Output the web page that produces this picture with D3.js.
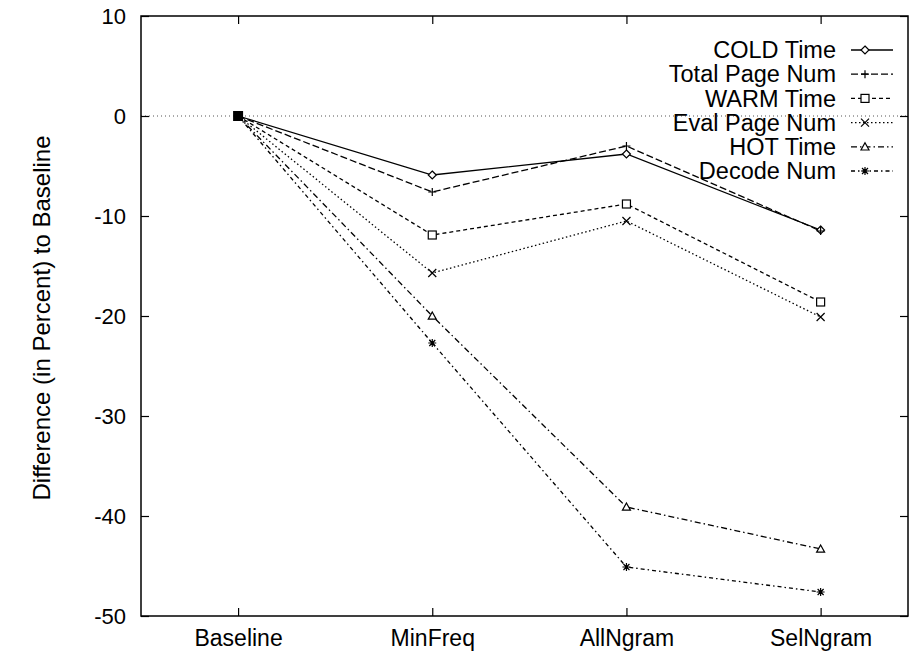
<!DOCTYPE html>
<html>
<head>
<meta charset="utf-8">
<script src="https://cdn.jsdelivr.net/npm/d3@7"></script>
<style>
  body { margin: 0; background: #fff; }
  svg { display: block; font-family: "Liberation Sans", Arial, sans-serif; }
</style>
</head>
<body>
<script>
// data
const categories = ['Baseline', 'MinFreq', 'AllNgram', 'SelNgram'];
const seriesNames = ['COLD Time', 'Total Page Num', 'WARM Time', 'Eval Page Num', 'HOT Time', 'Decode Num'];
const coldTime = [0, -5.9, -3.8, -11.4];
const totalPageNum = [0, -7.6, -3.0, -11.5];
const warmTime = [0, -11.9, -8.8, -18.6];
const evalPageNum = [0, -15.7, -10.5, -20.1];
const hotTime = [0, -20.0, -39.1, -43.3];
const decodeNum = [0, -22.7, -45.1, -47.6];
const yTicks = [10, 0, -10, -20, -30, -40, -50];

const seriesValues = [coldTime, totalPageNum, warmTime, evalPageNum, hotTime, decodeNum];
const dashes = [null, '7,3', '4,3', '1.5,2.5', '6,3,1.5,3', '4,3,1.5,3'];
const markers = ['diamond', 'plus', 'square', 'cross', 'triangle', 'star'];

const width = 909, height = 657;
const mLeft = 141, mRight = 908, mTop = 16, mBottom = 616;

const svg = d3.select('body').append('svg')
  .attr('width', width)
  .attr('height', height);

const x = d3.scaleLinear().domain([-0.5, 3.45]).range([mLeft, mRight]);
const y = d3.scaleLinear().domain([-50, 10]).range([mBottom, mTop]);

// zero line
svg.append('line')
  .attr('x1', mLeft).attr('x2', mRight)
  .attr('y1', y(0)).attr('y2', y(0))
  .attr('stroke', '#555').attr('stroke-width', 1)
  .attr('stroke-dasharray', '1,3');

// frame
svg.append('rect')
  .attr('x', mLeft).attr('y', mTop)
  .attr('width', mRight - mLeft).attr('height', mBottom - mTop)
  .attr('fill', 'none').attr('stroke', '#000').attr('stroke-width', 1.5);

// axes, ticks inward, mirrored like gnuplot
svg.append('g').attr('transform', `translate(${mLeft},0)`)
  .call(d3.axisLeft(y).tickValues(yTicks).tickFormat(d => String(d))
    .tickSizeInner(-8).tickSizeOuter(0).tickPadding(15))
  .call(g => g.select('.domain').remove())
  .call(g => g.selectAll('text').attr('font-size', 22).attr('fill', '#000').attr('font-family', null));
svg.append('g').attr('transform', `translate(${mRight},0)`)
  .call(d3.axisRight(y).tickValues(yTicks).tickSizeInner(-8).tickSizeOuter(0).tickFormat(''))
  .call(g => g.select('.domain').remove());
svg.append('g').attr('transform', `translate(0,${mBottom})`)
  .call(d3.axisBottom(x).tickValues(d3.range(categories.length)).tickFormat(i => categories[i])
    .tickSizeInner(-8).tickSizeOuter(0).tickPadding(14))
  .call(g => g.select('.domain').remove())
  .call(g => g.selectAll('text').attr('font-size', 23).attr('fill', '#000').attr('font-family', null));
svg.append('g').attr('transform', `translate(0,${mTop})`)
  .call(d3.axisTop(x).tickValues(d3.range(categories.length)).tickFormat('')
    .tickSizeInner(-8).tickSizeOuter(0))
  .call(g => g.select('.domain').remove());
svg.selectAll('.tick line').attr('stroke', '#000').attr('stroke-width', 1.2);

// y title
svg.append('text')
  .attr('transform', `translate(50,${(mTop + mBottom) / 2 + 2}) rotate(-90)`)
  .attr('text-anchor', 'middle')
  .attr('font-size', 24)
  .text('Difference (in Percent) to Baseline');

function drawMarker(g, type, cx, cy) {
  const s = 4;
  const m = g.append('g').attr('transform', `translate(${cx},${cy})`)
    .attr('fill', 'none').attr('stroke', '#000').attr('stroke-width', 1.2);
  if (type === 'diamond') m.append('path').attr('d', `M0,${-s}L${s},0L0,${s}L${-s},0Z`).attr('fill', '#fff');
  if (type === 'plus') m.append('path').attr('d', `M${-s},0H${s}M0,${-s}V${s}`);
  if (type === 'square') m.append('rect').attr('x', -s).attr('y', -s).attr('width', 2 * s).attr('height', 2 * s).attr('fill', '#fff');
  if (type === 'cross') m.append('path').attr('d', `M${-s},${-s}L${s},${s}M${-s},${s}L${s},${-s}`);
  if (type === 'triangle') m.append('path').attr('d', `M0,${-s}L${s},${s * 0.8}L${-s},${s * 0.8}Z`).attr('fill', '#fff');
  if (type === 'star') m.append('path').attr('d', `M${-s},0H${s}M0,${-s}V${s}M${-s * 0.75},${-s * 0.75}L${s * 0.75},${s * 0.75}M${-s * 0.75},${s * 0.75}L${s * 0.75},${-s * 0.75}`);
}

const line = d3.line().x((d, i) => x(i)).y(d => y(d));

seriesValues.forEach((vals, k) => {
  svg.append('path')
    .attr('d', line(vals))
    .attr('fill', 'none').attr('stroke', '#000').attr('stroke-width', 1.3)
    .attr('stroke-dasharray', dashes[k]);
  const g = svg.append('g');
  vals.forEach((v, i) => { if (i > 0) drawMarker(g, markers[k], x(i), y(v)); });
});

// baseline point: all markers pile up into a filled square
svg.append('rect')
  .attr('x', x(0) - 5).attr('y', y(0) - 5).attr('width', 10).attr('height', 10)
  .attr('fill', '#000');

// legend
const legend = svg.append('g');
seriesNames.forEach((name, k) => {
  const ly = 50 + k * 24.2;
  legend.append('text')
    .attr('x', 836).attr('y', ly).attr('dy', '0.35em')
    .attr('text-anchor', 'end').attr('font-size', 23.5)
    .text(name);
  legend.append('line')
    .attr('x1', 851).attr('x2', 893).attr('y1', ly).attr('y2', ly)
    .attr('stroke', '#000').attr('stroke-width', 1.3)
    .attr('stroke-dasharray', dashes[k]);
  drawMarker(legend, markers[k], 865, ly);
});
</script>
</body>
</html>
